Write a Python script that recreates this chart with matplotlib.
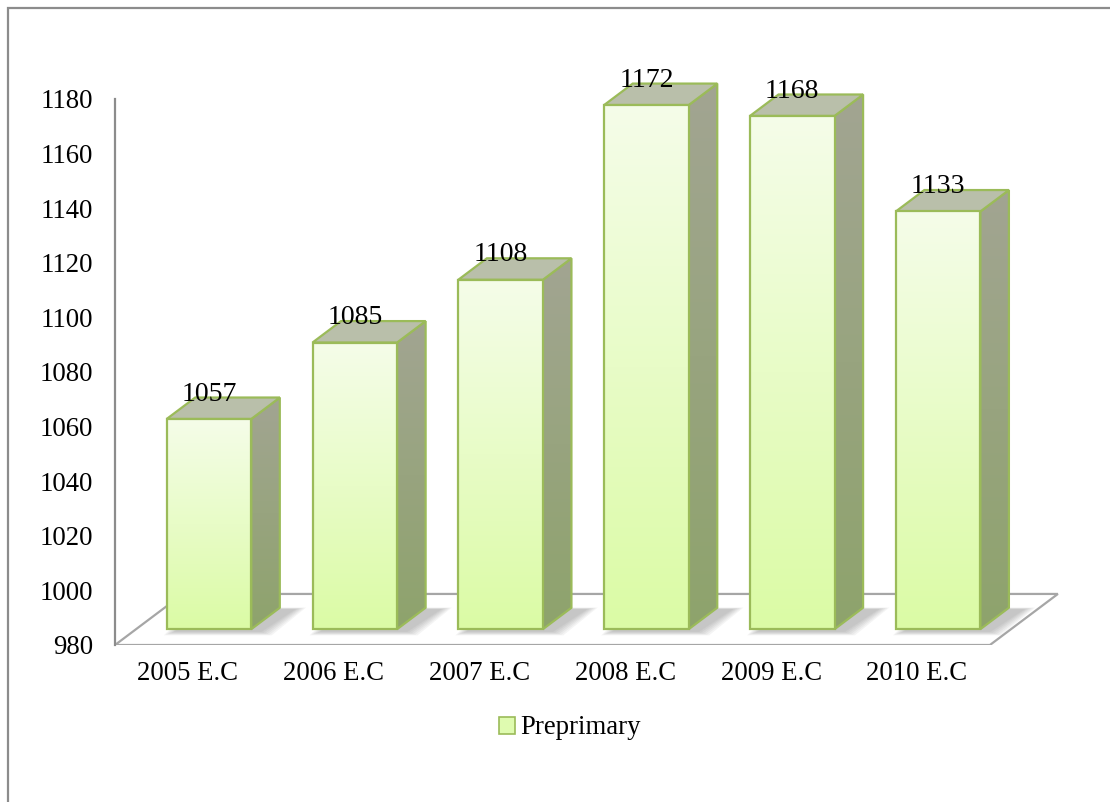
import numpy as np
import matplotlib
matplotlib.use("Agg")
import matplotlib.pyplot as plt
from matplotlib.patches import Polygon, Rectangle, Patch
from matplotlib.colors import LinearSegmentedColormap

plt.rcParams['font.family'] = ['Liberation Serif', 'DejaVu Serif']

# data
years = ['2005 E.C', '2006 E.C', '2007 E.C', '2008 E.C', '2009 E.C', '2010 E.C']
preprimary = [1057, 1085, 1108, 1172, 1168, 1133]
y_ticks = list(range(980, 1181, 20))

# oblique "3d" look: full floor depth in data units
DX, DY = 0.466, 18.7
F0, F1 = 0.31, 0.73      # bar front / back as fraction of floor depth
HALF_W = 0.29
BASE = 980

EDGE = '#9bbb59'
front_cmap = LinearSegmentedColormap.from_list('front', ['#dbfba5', '#f5fde9'])
side_cmap = LinearSegmentedColormap.from_list('side', ['#8ea36c', '#a2a592'])

fig = plt.figure(figsize=(11.1, 8.02), dpi=100)
# axes placed so the front plane maps 980..1200 and -0.5..6.2
ax = fig.add_axes([115 / 1110, 157 / 802, 977 / 1110, 600.6 / 802])
grad = np.linspace(0, 1, 256).reshape(-1, 1)


def shade(poly, cmap, bbox):
    im = ax.imshow(grad, cmap=cmap, origin='lower', extent=bbox,
                   aspect='auto', zorder=poly.get_zorder() - 0.01)
    im.set_clip_path(poly)


# floor
floor = Polygon([(-0.5, BASE), (5.5, BASE), (5.5 + DX, BASE + DY), (-0.5 + DX, BASE + DY)],
                closed=True, facecolor='white', edgecolor='#a6a6a6', lw=1.6, zorder=1)
ax.add_patch(floor)

for i, v in enumerate(preprimary):
    xl, xr = i - HALF_W, i + HALF_W
    z = 3 + i

    # soft shadow on the floor
    for k in range(6):
        g = 0.014 * k
        sh = Polygon([(xl + F0 * DX + 0.05 - g, BASE + F0 * DY - 1.0 - g * 18),
                      (xr + F0 * DX + 0.07 + g, BASE + F0 * DY - 1.0 - g * 18),
                      (xr + F1 * DX + 0.11 + g, BASE + F1 * DY - 0.5 + g * 8),
                      (xl + F1 * DX + 0.05 - g, BASE + F1 * DY - 0.5 + g * 8)],
                     closed=True, facecolor='#404040', edgecolor='none', alpha=0.055, zorder=2)
        ax.add_patch(sh)

    # front face
    fx0, fx1 = xl + F0 * DX, xr + F0 * DX
    fy0, fy1 = BASE + F0 * DY, v + F0 * DY
    front = Rectangle((fx0, fy0), fx1 - fx0, fy1 - fy0, facecolor='none',
                      edgecolor=EDGE, lw=1.6, zorder=z + 0.5)
    ax.add_patch(front)
    shade(front, front_cmap, [fx0, fx1, fy0, fy1])

    # side face
    side_pts = [(fx1, fy0), (xr + F1 * DX, BASE + F1 * DY), (xr + F1 * DX, v + F1 * DY), (fx1, fy1)]
    side = Polygon(side_pts, closed=True, facecolor='none', edgecolor=EDGE, lw=1.6, zorder=z + 0.3)
    ax.add_patch(side)
    shade(side, side_cmap, [fx1, xr + F1 * DX, fy0, v + F1 * DY])

    # top face
    top = Polygon([(fx0, fy1), (fx1, fy1), (xr + F1 * DX, v + F1 * DY), (xl + F1 * DX, v + F1 * DY)],
                  closed=True, facecolor='#b9bfaa', edgecolor=EDGE, lw=1.6, zorder=z + 0.4)
    ax.add_patch(top)

    ax.text(i + F0 * DX, v + 12.5, str(v), ha='center', va='baseline',
            fontsize=20, color='black', zorder=20)

ax.set_xlim(-0.5, 6.2)
ax.set_ylim(980, 1200)
ax.set_xticks(range(len(years)))
ax.set_xticklabels(years)
ax.set_yticks(y_ticks)
ax.tick_params(axis='both', length=0, labelsize=19.3, colors='black')
ax.tick_params(axis='y', pad=16)
ax.tick_params(axis='x', pad=11.5)
for s in ['top', 'right', 'bottom']:
    ax.spines[s].set_visible(False)
ax.spines['left'].set_color('#8c8c8c')
ax.spines['left'].set_linewidth(1.6)
ax.spines['left'].set_bounds(980, 1180)
ax.set_facecolor('none')

# legend
handle = Patch(facecolor='#dffbb0', edgecolor=EDGE, lw=1.2, label='Preprimary')
fig.legend(handles=[handle], loc='center', bbox_to_anchor=(570 / 1110, 1 - 728 / 802),
           frameon=False, fontsize=19.3, handlelength=0.6, handleheight=0.6,
           handletextpad=0.2)

# outer chart border (only top and left edges visible in the crop)
fig.add_artist(Rectangle((8 / 1110, -0.1), 1.2, 1.1 - 8 / 802, transform=fig.transFigure,
                         facecolor='none', edgecolor='#8c8c8c', lw=1.6))

fig.savefig('out.png', dpi=100)
